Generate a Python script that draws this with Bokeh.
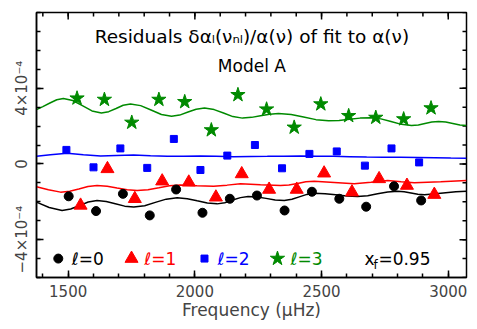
import math
from bokeh.plotting import figure
from bokeh.models import FixedTicker
from bokeh.core.properties import value
from bokeh.embed import file_html
from bokeh.resources import INLINE

# ---- data: frequency (muHz) and residual (units of 1e-4) ----
f_l0 = [1502, 1610, 1716, 1822, 1926, 2030, 2138, 2245, 2354, 2462, 2570, 2676, 2786, 2893]
r_l0 = [-1.71, -2.49, -1.58, -2.72, -1.35, -2.58, -1.84, -1.67, -2.46, -1.47, -1.84, -2.26, -1.18, -1.93]

f_l1 = [1549, 1655, 1763, 1871, 1976, 2083, 2185, 2293, 2402, 2510, 2620, 2727, 2837, 2945]
r_l1 = [-2.19, -0.26, -1.84, -0.91, -0.97, -1.76, -0.53, -1.35, -1.35, -0.49, -1.49, -0.79, -1.14, -1.62]

f_l2 = [1493, 1600, 1706, 1812, 1917, 2022, 2128, 2237, 2344, 2452, 2560, 2671, 2776, 2885]
r_l2 = [0.74, -0.18, 0.82, -0.21, 1.32, -0.32, 0.44, 1.00, -0.23, 0.53, 0.66, -0.09, 0.82, 0.08]

f_l3 = [1535, 1643, 1751, 1858, 1960, 2065, 2170, 2283, 2392, 2497, 2607, 2714, 2824, 2932]
r_l3 = [3.47, 3.40, 2.19, 3.40, 3.28, 1.79, 3.65, 2.89, 1.93, 3.16, 2.54, 2.45, 2.37, 2.95]

# fitted curves
fit0_f = [1375, 1425, 1476, 1510, 1545, 1579, 1614, 1650, 1686, 1723, 1759, 1802, 1844, 1887,
          1930, 1970, 2009, 2049, 2088, 2118, 2149, 2180, 2210, 2246, 2281, 2317, 2353, 2383,
          2412, 2442, 2471, 2514, 2556, 2599, 2642, 2682, 2721, 2761, 2800, 2826, 2853, 2880,
          2906, 2950, 2990, 3030, 3072]
fit0_r = [-2.02, -2.30, -2.46, -2.38, -2.20, -2.01, -1.93, -1.98, -2.10, -2.23, -2.28, -2.21, -2.03, -1.86,
          -1.79, -1.84, -1.95, -2.06, -2.11, -2.05, -1.91, -1.78, -1.72, -1.75, -1.82, -1.90, -1.93, -1.87,
          -1.74, -1.61, -1.55, -1.57, -1.63, -1.70, -1.72, -1.68, -1.58, -1.48, -1.44, -1.47, -1.53, -1.60,
          -1.63, -1.58, -1.52, -1.47, -1.44]

fit1_f = [1375, 1422, 1470, 1506, 1542, 1578, 1614, 1654, 1693, 1733, 1772, 1815, 1858, 1900,
          1943, 2008, 2074, 2127, 2180, 2259, 2338, 2371, 2405, 2438, 2471, 2550, 2629, 2695,
          2761, 2814, 2866, 2970, 3072]
fit1_r = [-1.21, -1.36, -1.49, -1.44, -1.32, -1.19, -1.14, -1.18, -1.27, -1.36, -1.40, -1.36, -1.26, -1.15,
          -1.11, -1.15, -1.18, -1.12, -1.05, -1.10, -1.14, -1.11, -1.03, -0.94, -0.91, -0.98, -1.05, -0.97,
          -0.88, -0.94, -0.99, -0.94, -0.88]

fit2_f = [1375, 1430, 1496, 1560, 1628, 1690, 1758, 1825, 1891, 1955, 2022, 2085, 2153, 2220,
          2286, 2350, 2417, 2480, 2547, 2610, 2678, 2745, 2812, 2880, 2947, 3010, 3072]
fit2_r = [0.40, 0.48, 0.56, 0.49, 0.42, 0.45, 0.47, 0.43, 0.40, 0.41, 0.42, 0.40, 0.38, 0.39,
          0.40, 0.41, 0.42, 0.41, 0.40, 0.38, 0.36, 0.35, 0.35, 0.34, 0.33, 0.31, 0.30]

fit3_f = [1375, 1400, 1428, 1455, 1481, 1518, 1556, 1594, 1631, 1660, 1689, 1717, 1746, 1786,
          1827, 1868, 1908, 1940, 1973, 2005, 2038, 2076, 2113, 2150, 2188, 2224, 2259, 2295,
          2330, 2380, 2429, 2478, 2528, 2569, 2610, 2652, 2693, 2734, 2774, 2815, 2855, 2882,
          2908, 2935, 2962, 2990, 3018, 3046, 3072]
fit3_r = [2.87, 3.03, 3.22, 3.39, 3.46, 3.35, 3.08, 2.80, 2.69, 2.76, 2.93, 3.10, 3.17, 3.08,
          2.85, 2.61, 2.52, 2.58, 2.74, 2.89, 2.95, 2.87, 2.69, 2.50, 2.42, 2.46, 2.55, 2.63,
          2.67, 2.61, 2.48, 2.34, 2.28, 2.30, 2.36, 2.42, 2.44, 2.38, 2.24, 2.09, 2.03, 2.06,
          2.14, 2.21, 2.24, 2.21, 2.14, 2.06, 2.03]

x_major = [1500, 2000, 2500, 3000]
x_minor = list(range(1400, 3100, 100))
y_major = [-4, 0, 4]
y_minor = list(range(-6, 9))
y_tick_labels = {-4: "\u22124\u00d710\u207b\u2074", 0: "0", 4: "4\u00d710\u207b\u2074"}
legend_labels = ["\u2113=0", "\u2113=1", "\u2113=2", "\u2113=3"]
title_text = "Residuals \u03b4\u03b1\u2097(\u03bd\u2099\u2097)/\u03b1(\u03bd) of fit to \u03b1(\u03bd)"
model_text = "Model A"
xf_text = "=0.95"

# ---- styling ----
FONT = "DejaVu Sans"
BLACK, RED, BLUE, GREEN = "#000000", "#ff0000", "#0000ff", "#008a00"
X0, X1, Y0, Y1 = 1375, 3072, -6, 8

p = figure(frame_width=430, frame_height=265, x_range=(X0, X1), y_range=(Y0, Y1),
           output_backend="svg", toolbar_location=None,
           min_border_left=36, min_border_top=12, min_border_right=11, min_border_bottom=52)
p.xgrid.grid_line_color = None
p.ygrid.grid_line_color = None
p.outline_line_color = "black"
p.outline_line_width = 1.5
p.background_fill_color = "white"
p.border_fill_color = "white"

for ax in (p.xaxis[0], p.yaxis[0]):
    ax.axis_line_width = 1.5
    ax.major_tick_line_width = 1.5
    ax.minor_tick_line_width = 1.5
    ax.major_tick_in = 7
    ax.major_tick_out = 0
    ax.minor_tick_in = 4
    ax.minor_tick_out = 0
    ax.major_label_text_font = FONT
    ax.axis_label_text_font = FONT
    ax.axis_label_text_font_style = "normal"

p.xaxis.ticker = FixedTicker(ticks=x_major, minor_ticks=x_minor)
p.yaxis.ticker = FixedTicker(ticks=y_major, minor_ticks=y_minor)
p.xaxis.major_label_text_font_size = "15px"
p.xaxis.major_label_standoff = 7
p.xaxis.axis_label = "Frequency (\u03bcHz)"
p.xaxis.axis_label_text_font_size = "17px"
p.xaxis.axis_label_standoff = 0
p.yaxis.major_label_text_font_size = "15px"
p.yaxis.major_label_orientation = "vertical"
p.yaxis.major_label_standoff = 5
p.yaxis.major_label_overrides = y_tick_labels

# inward ticks on top and right edges (mirroring the axis tickers)
p.ray(x=x_minor, y=[Y1] * len(x_minor), length=4, length_units="screen",
      angle=-math.pi / 2, line_color=BLACK, line_width=1.5)
p.ray(x=x_major, y=[Y1] * len(x_major), length=7, length_units="screen",
      angle=-math.pi / 2, line_color=BLACK, line_width=1.5)
p.ray(x=[X1] * len(y_minor), y=y_minor, length=4, length_units="screen",
      angle=math.pi, line_color=BLACK, line_width=1.5)
p.ray(x=[X1] * len(y_major), y=y_major, length=7, length_units="screen",
      angle=math.pi, line_color=BLACK, line_width=1.5)

# fitted curves
p.line(fit0_f, fit0_r, line_color=BLACK, line_width=1.5)
p.line(fit1_f, fit1_r, line_color=RED, line_width=1.5)
p.line(fit2_f, fit2_r, line_color=BLUE, line_width=1.5)
p.line(fit3_f, fit3_r, line_color=GREEN, line_width=1.5)

# data points
p.scatter(f_l0, r_l0, marker="circle", size=9, fill_color=BLACK, line_color=BLACK)
p.scatter(f_l1, r_l1, marker="triangle", size=13, fill_color=RED, line_color=RED)
p.scatter(f_l2, r_l2, marker="square", size=7, fill_color=BLUE, line_color=BLUE)
p.scatter(f_l3, r_l3, marker="star", size=15, fill_color=GREEN, line_color=GREEN)

# titles
p.text([2225], [6.75], text=[title_text], text_font=value(FONT), text_font_size="18.5px",
       text_align="center", text_baseline="middle", text_color=BLACK)
p.text([2225], [5.17], text=[model_text], text_font=value(FONT), text_font_size="17px",
       text_align="center", text_baseline="middle", text_color=BLACK)

# legend row
leg_y = -5.0
leg_marker_x = [1461, 1750, 2038, 2326]
leg_text_x = [1514, 1800, 2089, 2377]
markers = [("circle", 9, BLACK), ("triangle", 13, RED), ("square", 7, BLUE), ("star", 15, GREEN)]
for mx, tx, lab, (mk, sz, col) in zip(leg_marker_x, leg_text_x, legend_labels, markers):
    p.scatter([mx], [leg_y], marker=mk, size=sz, fill_color=col, line_color=col)
    p.text([tx], [leg_y], text=[lab], text_font=value(FONT), text_font_size="17px",
           text_align="left", text_baseline="middle", text_color=col)

xf_x = 2669
p.text([xf_x], [leg_y], text=["x"], text_font=value(FONT), text_font_size="17px",
       text_align="left", text_baseline="middle", text_color=BLACK)
p.text([xf_x], [leg_y], text=["f"], text_font=value(FONT), text_font_size="12px",
       text_align="left", text_baseline="middle", text_color=BLACK, x_offset=9, y_offset=6)
p.text([xf_x], [leg_y], text=[xf_text], text_font=value(FONT), text_font_size="17px",
       text_align="left", text_baseline="middle", text_color=BLACK, x_offset=14)

open("out.html", "w").write(file_html(p, INLINE))
